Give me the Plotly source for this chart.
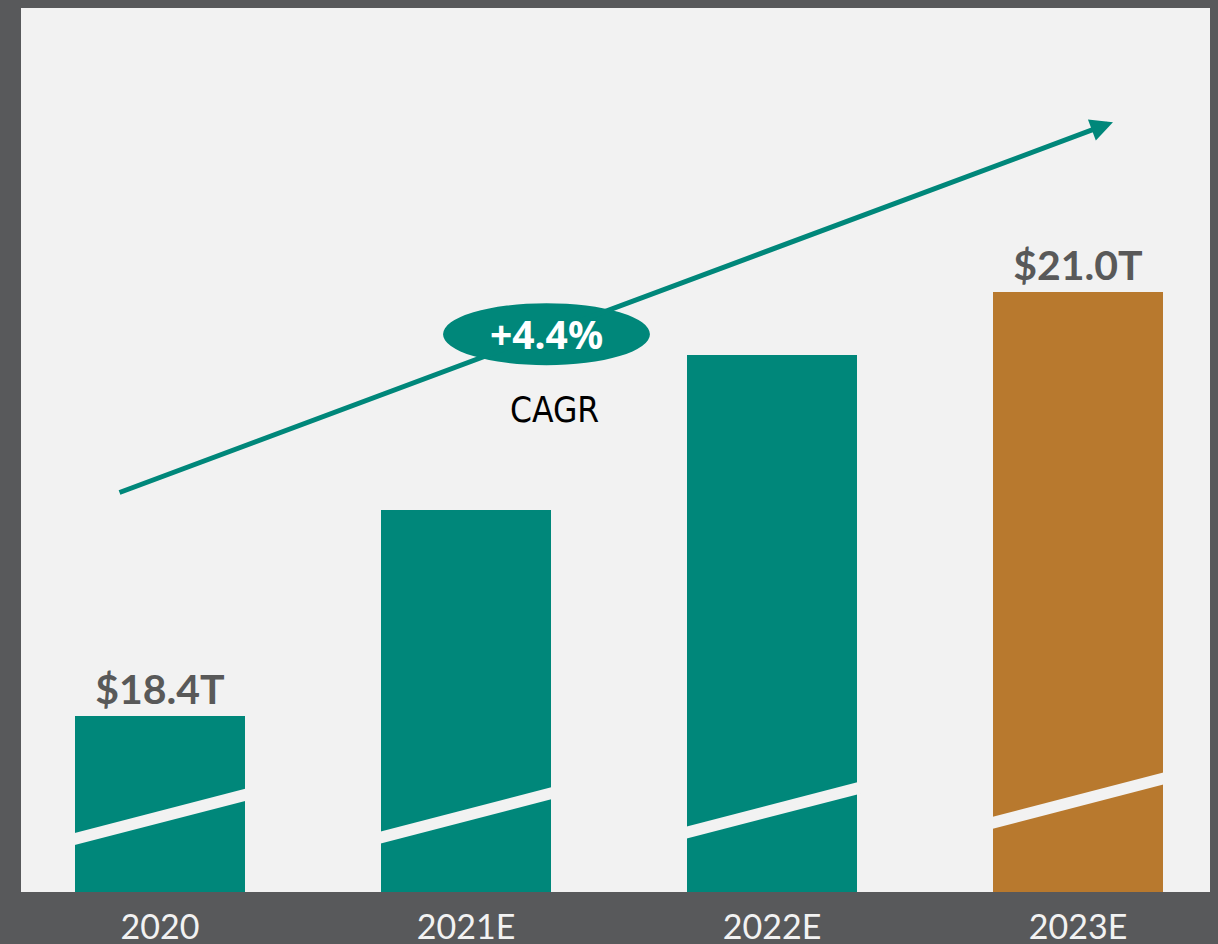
import plotly.graph_objects as go

categories = ["2020", "2021E", "2022E", "2023E"]
values = [18.4, 19.66, 20.61, 21.0]
labels = ["$18.4T", "", "", "$21.0T"]
bar_colors = ["#00877a", "#00877a", "#00877a", "#b8792e"]
cagr_text = "+4.4%"
cagr_label = "CAGR"

# break band center (y, data units) at left and right edge of each bar
break_left = [17.64, 17.65, 17.68, 17.74]
break_right = [17.92, 17.93, 17.96, 18.02]

BG = "#58595b"
PLOT_BG = "#f2f2f2"
TEAL = "#00877a"
BAR_W = 0.556

fig = go.Figure()
fig.add_trace(go.Bar(
    x=list(range(len(categories))), y=values, width=BAR_W,
    marker=dict(color=bar_colors, line=dict(width=0)),
    text=labels, textposition="outside", cliponaxis=False,
    textfont=dict(family="Lato", size=41, color="#595959", weight="bold"),
    hoverinfo="skip",
))

shapes = []
half = 0.037
for i, (yl, yr) in enumerate(zip(break_left, break_right)):
    x0 = i - BAR_W / 2 - 0.01
    x1 = i + BAR_W / 2 + 0.01
    shapes.append(dict(
        type="path", xref="x", yref="y",
        path=f"M {x0},{yl-half} L {x1},{yr-half} L {x1},{yr+half} L {x0},{yl+half} Z",
        fillcolor=PLOT_BG, line=dict(width=0), layer="above",
    ))

# ellipse for CAGR
shapes.append(dict(type="circle", xref="x", yref="y",
                   x0=0.925, x1=1.601, y0=20.55, y1=20.93,
                   fillcolor=TEAL, line=dict(width=0), layer="above"))

annotations = [
    dict(x=3.114, y=22.04, ax=-0.137, ay=19.766, xref="x", yref="y",
         axref="x", ayref="y", showarrow=True, arrowhead=2, arrowsize=0.9,
         arrowwidth=5, arrowcolor=TEAL, text=""),
    dict(x=1.264, y=20.745, xref="x", yref="y", text=f"<b>{cagr_text}</b>",
         showarrow=False, font=dict(family="Noto Sans", size=39, color="white")),
    dict(x=1.29, y=20.275, xref="x", yref="y", text=cagr_label,
         showarrow=False, font=dict(family="DejaVu Sans Condensed", size=35, color="black")),
]

fig.update_layout(
    width=1218, height=944,
    margin=dict(l=13, r=16, t=0, b=60, autoexpand=False),
    paper_bgcolor=BG, plot_bgcolor=PLOT_BG,
    showlegend=False,
    shapes=shapes, annotations=annotations,
    xaxis=dict(range=[-0.454, 3.431], tickmode="array",
               tickvals=list(range(len(categories))), ticktext=categories,
               showgrid=False, zeroline=False, showline=False, ticks="",
               ticklabelstandoff=12,
               tickfont=dict(family="Lato", size=34, color="#f2f2f2")),
    yaxis=dict(range=[17.32, 22.74], visible=False, showgrid=False, zeroline=False),
    bargap=0,
)

fig.write_html(
    "out.html",
    post_script="document.documentElement.style.backgroundColor='#58595b';"
                "document.body.style.backgroundColor='#58595b';",
)
